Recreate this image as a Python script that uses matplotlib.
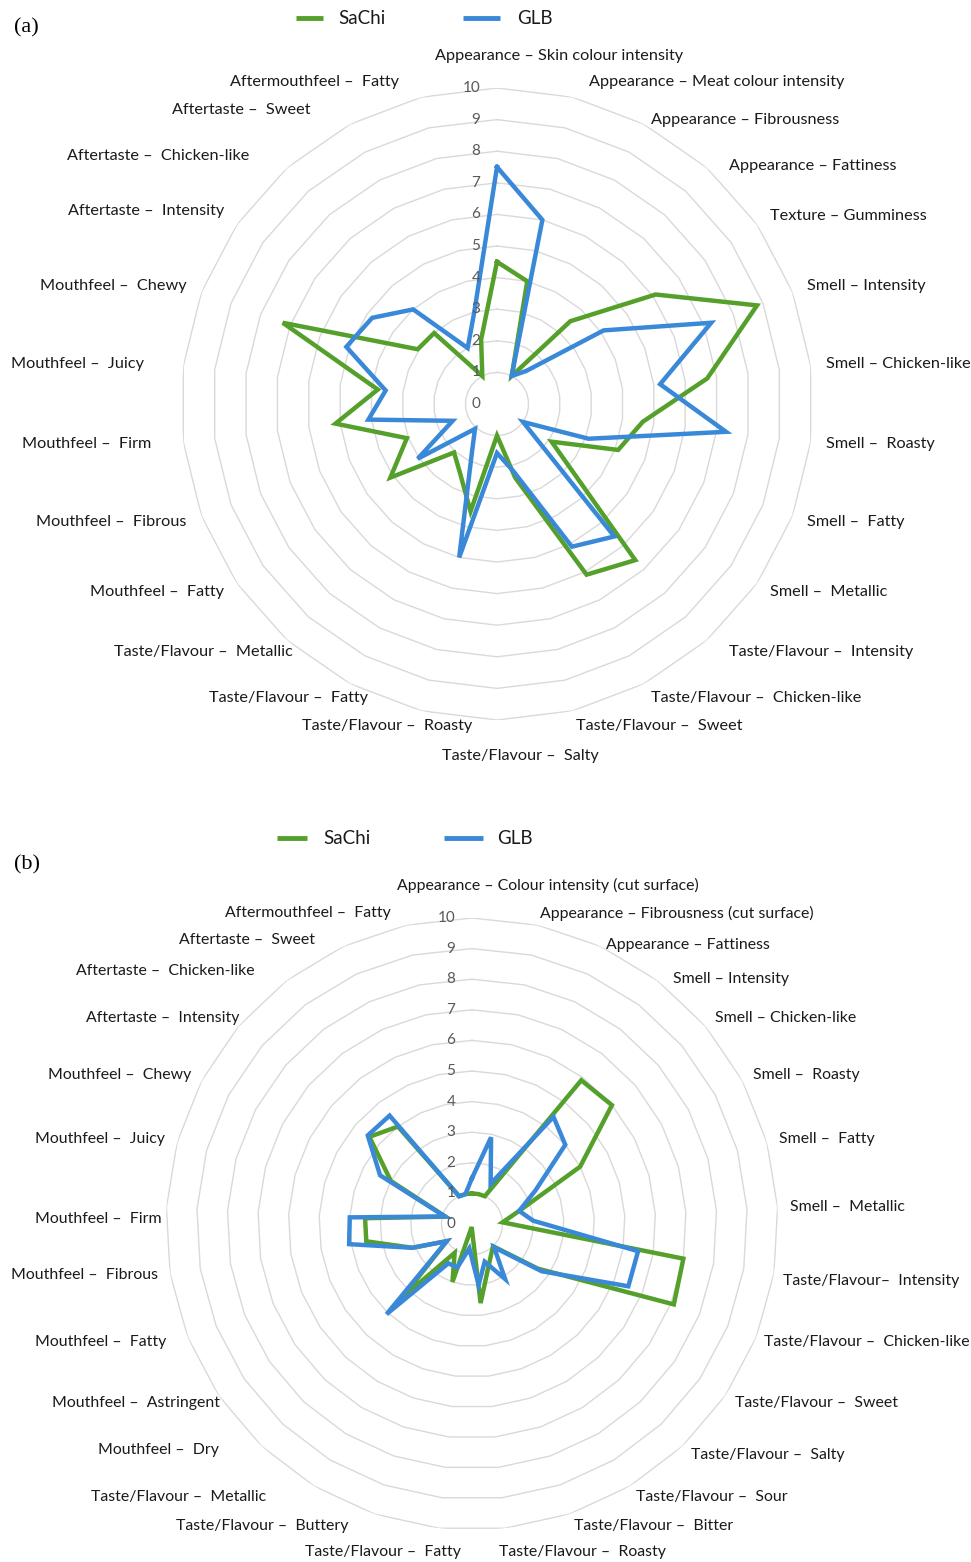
import numpy as np
import matplotlib
matplotlib.use("Agg")
import matplotlib.pyplot as plt
from matplotlib.lines import Line2D

# ---------------- data ----------------
labels_a = [
    "Appearance \u2013 Skin colour intensity",
    "Appearance \u2013 Meat colour intensity",
    "Appearance \u2013 Fibrousness",
    "Appearance \u2013 Fattiness",
    "Texture \u2013 Gumminess",
    "Smell \u2013 Intensity",
    "Smell \u2013 Chicken-like",
    "Smell \u2013  Roasty",
    "Smell \u2013  Fatty",
    "Smell \u2013  Metallic",
    "Taste/Flavour \u2013  Intensity",
    "Taste/Flavour \u2013  Chicken-like",
    "Taste/Flavour \u2013  Sweet",
    "Taste/Flavour \u2013  Salty",
    "Taste/Flavour \u2013  Roasty",
    "Taste/Flavour \u2013  Fatty",
    "Taste/Flavour \u2013  Metallic",
    "Mouthfeel \u2013  Fatty",
    "Mouthfeel \u2013  Fibrous",
    "Mouthfeel \u2013  Firm",
    "Mouthfeel \u2013  Juicy",
    "Mouthfeel \u2013  Chewy",
    "Aftertaste \u2013  Intensity",
    "Aftertaste \u2013  Chicken-like",
    "Aftertaste \u2013  Sweet",
    "Aftermouthfeel \u2013  Fatty",
]
sachi_a = [4.5, 4.0, 1.0, 3.5, 6.1, 8.8, 6.7, 4.65, 4.1, 2.1, 6.6, 6.1, 2.4,
           1.0, 3.5, 2.5, 2.05, 4.1, 3.05, 5.15, 3.8, 7.25, 3.05, 3.0, 1.0, 2.1]
glb_a = [7.5, 6.0, 1.0, 1.4, 4.1, 7.25, 5.2, 7.3, 3.1, 1.0, 5.6, 5.1, 2.2,
         1.55, 5.0, 1.7, 1.05, 3.05, 1.5, 4.1, 3.55, 5.1, 4.8, 4.0, 2.0, 3.0]

labels_b = [
    "Appearance \u2013 Colour intensity (cut surface)",
    "Appearance \u2013 Fibrousness (cut surface)",
    "Appearance \u2013 Fattiness",
    "Smell \u2013 Intensity",
    "Smell \u2013 Chicken-like",
    "Smell \u2013  Roasty",
    "Smell \u2013  Fatty",
    "Smell \u2013  Metallic",
    "Taste/Flavour\u2013  Intensity",
    "Taste/Flavour \u2013  Chicken-like",
    "Taste/Flavour \u2013  Sweet",
    "Taste/Flavour \u2013  Salty",
    "Taste/Flavour \u2013  Sour",
    "Taste/Flavour \u2013  Bitter",
    "Taste/Flavour \u2013  Roasty",
    "Taste/Flavour \u2013  Fatty",
    "Taste/Flavour \u2013  Buttery",
    "Taste/Flavour \u2013  Metallic",
    "Mouthfeel \u2013  Dry",
    "Mouthfeel \u2013  Astringent",
    "Mouthfeel \u2013  Fatty",
    "Mouthfeel \u2013  Fibrous",
    "Mouthfeel \u2013  Firm",
    "Mouthfeel \u2013  Juicy",
    "Mouthfeel \u2013  Chewy",
    "Aftertaste \u2013  Intensity",
    "Aftertaste \u2013  Chicken-like",
    "Aftertaste \u2013  Sweet",
    "Aftermouthfeel \u2013  Fatty",
]
sachi_b = [1.0, 1.0, 1.0, 5.9, 6.0, 4.0, 1.6, 1.0, 7.0, 7.1, 2.6, 1.0, 1.2, 1.6,
           2.6, 0.1, 2.0, 1.1, 3.3, 1.0, 2.1, 3.5, 3.5, 0.9, 3.0, 4.4, 4.0, 1.0, 1.0]
glb_b = [1.5, 2.9, 1.45, 4.4, 4.0, 2.35, 1.6, 2.0, 5.5, 5.5, 2.75, 1.05, 2.1, 1.3,
         2.0, 0.8, 1.5, 1.5, 4.06, 1.0, 2.1, 4.07, 4.0, 0.92, 3.4, 4.47, 4.45, 1.0, 1.0]

series_names = ["SaChi", "GLB"]
rings = list(range(0, 11))

# ---------------- style / layout ----------------
GREEN = "#55a02b"
BLUE = "#3a89d8"
GRID = "#d9d9d9"
TICK = "#595959"
FONT = "Lato"

# small hand adjustments (in pixels) for individual category labels
nudge_a = {1: (13, 0), 2: (0, 10), 3: (12, 10), 10: (12, 0), 14: (55, 0),
           15: (25, 0), 16: (16, 0), 19: (-16, 0), 20: (-24, 0), 22: (0, -5),
           23: (-28, 0), 24: (-32, 0), 25: (-19, 0)}
nudge_b = {2: (0, 10), 3: (8, 8), 8: (-3, 6), 9: (-4, 0), 14: (-7, 12),
           15: (23, 12), 16: (-22, 0), 17: (-42, 0), 18: (-34, -5), 19: (11, 0),
           20: (-10, 0), 22: (7, 12), 25: (10, 0), 26: (-25, 0), 27: (-23, 5),
           28: (-13, 0)}

W, H = 971, 1562
fig = plt.figure(figsize=(W / 100, H / 100), dpi=100)
renderer = fig.canvas.get_renderer()


def px_rect(cx, cy, r):
    return [(cx - r) / W, 1 - (cy + r) / H, 2 * r / W, 2 * r / H]


def radar(rect, labels, s1, s2, r_side, r_top, r_bottom, nudge, size):
    ax = fig.add_axes(rect, projection="polar")
    n = len(labels)
    theta = np.arange(n) * 2 * np.pi / n
    ax.set_theta_offset(np.pi / 2)
    ax.set_theta_direction(-1)
    ax.set_ylim(0, 10)
    ax.grid(False)
    ax.set_xticks([])
    ax.set_yticks([])
    ax.spines["polar"].set_visible(False)
    ax.patch.set_alpha(0)

    # polygonal rings, one per scale step
    closed = np.append(theta, theta[0])
    for k in rings[1:]:
        ax.plot(closed, [k] * (n + 1), color=GRID, lw=1.0, zorder=1)

    for vals, col in ((s1, GREEN), (s2, BLUE)):
        v = np.asarray(vals, dtype=float)
        ax.plot(closed, np.append(v, v[0]), color=col, lw=3.2, zorder=3,
                solid_joinstyle="miter")

    for k in rings:
        ax.annotate(str(k), xy=(0, k), xytext=(-12, 0), textcoords="offset points",
                    ha="right", va="center", color=TICK, fontsize=11,
                    family=FONT, zorder=4)

    # category labels around the outside
    ax_w, ax_h = ax.bbox.width, ax.bbox.height
    for i, (t, lab) in enumerate(zip(theta, labels)):
        s, c = np.sin(t), np.cos(t)
        dx, dy = nudge.get(i, (0, 0))
        if abs(s) < 0.05:
            r = r_top if c > 0 else r_bottom
            frac = 0.25 if c > 0 else 0.35
            ha = "left"
        else:
            r = r_side
            frac = 0.0
            ha = "left" if s > 0 else "right"
        x = 0.5 + 0.5 * (r / 10) * s + dx / ax_w
        y = 0.5 + 0.5 * (r / 10) * c - dy / ax_h
        txt = ax.text(x, y, lab, transform=ax.transAxes, ha=ha, va="center",
                      fontsize=size, family=FONT, color="#1a1a1a",
                      clip_on=False)
        if frac:
            w = txt.get_window_extent(renderer=renderer).width
            txt.set_x(x - frac * w / ax_w)
    return ax


def legend(y_px, g_x, b_x):
    y = 1 - y_px / H
    for (x0, x1, tx), col, name in ((g_x, GREEN, series_names[0]),
                                    (b_x, BLUE, series_names[1])):
        fig.add_artist(Line2D([x0 / W, x1 / W], [y, y], transform=fig.transFigure,
                              color=col, lw=3.5, solid_capstyle="butt"))
        fig.text(tx / W, y, name, ha="left", va="center", fontsize=13.5,
                 family=FONT, color="#1a1a1a")


radar(px_rect(497, 404, 316), labels_a, sachi_a, glb_a,
      r_side=10.5, r_top=11.0, r_bottom=11.15, nudge=nudge_a, size=11.7)
radar(px_rect(472, 1224, 306), labels_b, sachi_b, glb_b,
      r_side=10.4, r_top=11.05, r_bottom=11.05, nudge=nudge_b, size=11.4)

legend(18, (296, 323, 338), (463, 500, 517))
legend(838, (277, 307, 323), (444, 483, 497))

fig.text(14 / W, 1 - 28 / H, "(a)", ha="left", va="center", fontsize=16,
         family="Liberation Serif")
fig.text(14 / W, 1 - 865 / H, "(b)", ha="left", va="center", fontsize=16,
         family="Liberation Serif")

fig.savefig("out.png", dpi=100, facecolor="white")
